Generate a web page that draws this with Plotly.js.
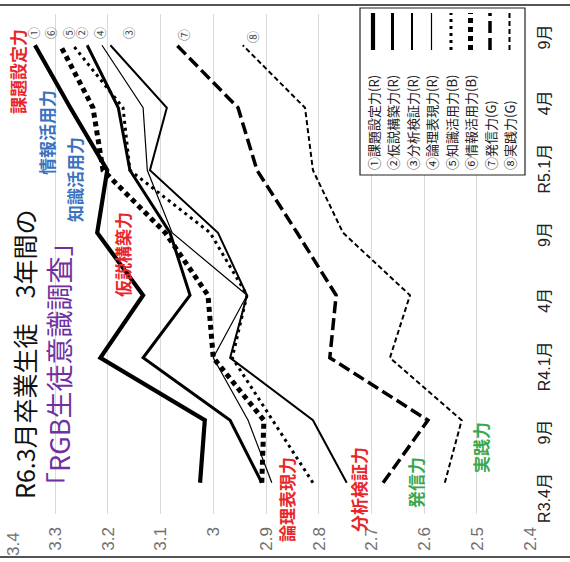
<!DOCTYPE html>
<html>
<head>
<meta charset="utf-8">
<script src="https://cdn.plot.ly/plotly-3.0.1.min.js"></script>
<style>
  html, body { margin: 0; padding: 0; background: #ffffff; overflow: hidden; width: 570px; height: 562px; }
  #wrap { position: absolute; left: 4px; top: -4px; width: 562px; height: 570px; transform: rotate(-90deg); transform-origin: 50% 50%; }
  #chart { width: 562px; height: 570px; }
</style>
</head>
<body>
<div id="wrap"><div id="chart"></div></div>
<script>
// ---- data ----
const categories = ['R3.4月', '9月', 'R4.1月', '4月', '9月', 'R5.1月', '4月', '9月'];
const seriesNames = ['①課題設定力(R)', '②仮説構築力(R)', '③分析検証力(R)', '④論理表現力(R)',
                     '⑤知識活用力(B)', '⑥情報活用力(B)', '⑦発信力(G)', '⑧実践力(G)'];
const s1 = [3.025, 3.016, 3.214, 3.133, 3.220, 3.201, 3.271, 3.338];
const s2 = [2.908, 2.968, 3.133, 3.044, 3.082, 3.158, 3.180, 3.239];
const s3 = [2.747, 2.811, 2.968, 2.936, 2.991, 3.120, 3.088, 3.195];
const s4 = [2.889, 2.934, 3.000, 2.936, 3.078, 3.125, 3.133, 3.211];
const s5 = [2.811, 2.887, 2.964, 2.936, 3.006, 3.158, 3.171, 3.266];
const s6 = [2.908, 2.904, 3.000, 3.010, 3.091, 3.209, 3.228, 3.290];
const s7 = [2.678, 2.593, 2.779, 2.767, 2.841, 2.917, 2.953, 3.069];
const s8 = [2.561, 2.529, 2.665, 2.627, 2.754, 2.811, 2.826, 2.944];
const valueTicks = [2.4, 2.5, 2.6, 2.7, 2.8, 2.9, 3.0, 3.1, 3.2, 3.3, 3.4];
const valueTickLabels = ['2.4', '2.5', '2.6', '2.7', '2.8', '2.9', '3', '3.1', '3.2', '3.3', '3.4'];
const titleLine1 = 'R6.3月卒業生徒　3年間の';
const titleLine2 = '「RGB生徒意識調査」';
const markerNums = ['①', '②', '③', '④', '⑤', '⑥', '⑦', '⑧'];
const lineLabels = ['課題設定力', '仮説構築力', '分析検証力', '論理表現力', '知識活用力', '情報活用力', '発信力', '実践力'];

// ---- styles ----
const allSeries = [s1, s2, s3, s4, s5, s6, s7, s8];
const idx = categories.map((c, i) => i);
const lineStyles = [
  {width: 4.2, dash: 'solid'},
  {width: 3.0, dash: 'solid'},
  {width: 2.0, dash: 'solid'},
  {width: 1.2, dash: 'solid'},
  {width: 3.0, dash: '3px,4px'},
  {width: 5.0, dash: '5px,4px'},
  {width: 3.5, dash: '12px,5px'},
  {width: 2.0, dash: '5px,3px'}
];
const FONT = '"Noto Sans CJK JP", "Noto Sans", sans-serif';
const TICKFONT = '"Liberation Sans", "Noto Sans CJK JP", sans-serif';

const traces = allSeries.map((s, i) => ({
  type: 'scatter', mode: 'lines', x: idx, y: s, name: seriesNames[i],
  line: {color: '#000000', width: lineStyles[i].width, dash: lineStyles[i].dash},
  showlegend: false, hoverinfo: 'skip', xaxis: 'x', yaxis: 'y'
}));
// carrier for category tick labels axis
traces.push({type: 'scatter', mode: 'markers', x: idx, y: s1, xaxis: 'x2', yaxis: 'y',
  marker: {opacity: 0}, showlegend: false, hoverinfo: 'skip'});

// paper helpers (plot area: 500 x 528 px)
const PW = 500, PH = 528;
function px(X) { return (X - 48) / PW; }       // original X px -> paper x
function py(Y) { return 1 - (Y - 2) / PH; }    // original Y px -> paper y

const annotations = [];
annotations.push({xref: 'paper', yref: 'paper', x: px(61), y: py(24), xanchor: 'left', yanchor: 'middle',
  text: titleLine1, showarrow: false, font: {family: FONT, size: 25, color: '#111111'}});
annotations.push({xref: 'paper', yref: 'paper', x: px(61), y: py(59), xanchor: 'left', yanchor: 'middle',
  text: titleLine2, showarrow: false, font: {family: FONT, size: 27, color: '#7030a0'}});

// top tick label (shifted inward like the original so it is not cut at the edge)
annotations.push({xref: 'paper', yref: 'paper', x: px(32), y: py(13), xanchor: 'right', yanchor: 'middle',
  text: valueTickLabels[valueTickLabels.length - 1], showarrow: false,
  font: {family: TICKFONT, size: 17, color: '#707070'}});

const RED = '#e8262a', BLUE = '#3a72c0', GREEN = '#3aa84a';
const labelPos = [
  {X: 490, Y: 18, c: RED},
  {X: 307, Y: 123, c: RED},
  {X: 72, Y: 358, c: RED},
  {X: 62, Y: 286, c: RED},
  {X: 382, Y: 74, c: BLUE},
  {X: 429, Y: 46, c: BLUE},
  {X: 79, Y: 415, c: GREEN},
  {X: 114, Y: 480, c: GREEN}
];
labelPos.forEach((p, i) => annotations.push({xref: 'paper', yref: 'paper', x: px(p.X), y: py(p.Y),
  xanchor: 'center', yanchor: 'middle', text: '<b>' + lineLabels[i] + '</b>', showarrow: false,
  font: {family: FONT, size: 17, color: p.c}}));

const numPos = [{X: 529, Y: 33}, {X: 529, Y: 82}, {X: 529, Y: 128}, {X: 529, Y: 100},
                {X: 529, Y: 68}, {X: 529, Y: 50}, {X: 527, Y: 183}, {X: 525, Y: 252}];
numPos.forEach((p, i) => annotations.push({xref: 'paper', yref: 'paper', x: px(p.X), y: py(p.Y),
  xanchor: 'center', yanchor: 'middle', text: markerNums[i], showarrow: false,
  font: {family: FONT, size: 12, color: '#444444'}}));

// legend (custom, sample to the right of text)
const shapes = [];
shapes.push({type: 'rect', xref: 'paper', yref: 'paper', x0: px(387), x1: px(554), y0: py(525), y1: py(360),
  line: {color: '#222222', width: 1.2}, fillcolor: '#ffffff', layer: 'above'});
seriesNames.forEach((n, i) => {
  const Y = 373 + i * 19.5;
  annotations.push({xref: 'paper', yref: 'paper', x: px(390), y: py(Y), xanchor: 'left', yanchor: 'middle',
    text: n, showarrow: false, font: {family: FONT, size: 13, color: '#222222'}});
  shapes.push({type: 'line', xref: 'paper', yref: 'paper', x0: px(512), x1: px(549), y0: py(Y), y1: py(Y),
    line: {color: '#000000', width: lineStyles[i].width, dash: lineStyles[i].dash}, layer: 'above'});
});
// chart border lines
[5, 557].forEach(X => shapes.push({type: 'line', xref: 'paper', yref: 'paper', x0: px(X), x1: px(X),
  y0: py(572), y1: py(-2), line: {color: '#555555', width: 2}}));

const layout = {
  width: 562, height: 570,
  margin: {l: 48, r: 14, t: 2, b: 40},
  paper_bgcolor: '#ffffff', plot_bgcolor: '#ffffff',
  showlegend: false,
  xaxis: {range: [-0.5, 7.5], showticklabels: false, showgrid: false, zeroline: false, showline: false, ticks: ''},
  xaxis2: {overlaying: 'x', anchor: 'y', side: 'bottom', range: [-0.243, 7.349], tickmode: 'array',
    tickvals: idx, ticktext: categories, showgrid: false, zeroline: false, showline: false, ticks: '',
    ticklabelstandoff: 3,
    tickfont: {family: TICKFONT, size: 16, color: '#222222'}},
  yaxis: {range: [2.3995, 3.4005], tickmode: 'array', tickvals: valueTicks.slice(0, -1),
    ticktext: valueTickLabels.slice(0, -1),
    showgrid: true, gridcolor: '#d9d9d9', gridwidth: 1, zeroline: false, showline: false, ticks: '',
    ticklabelstandoff: 12,
    tickfont: {family: TICKFONT, size: 17, color: '#707070'}},
  annotations: annotations,
  shapes: shapes
};

Plotly.newPlot('chart', traces, layout, {displayModeBar: false, staticPlot: true});
</script>
</body>
</html>
